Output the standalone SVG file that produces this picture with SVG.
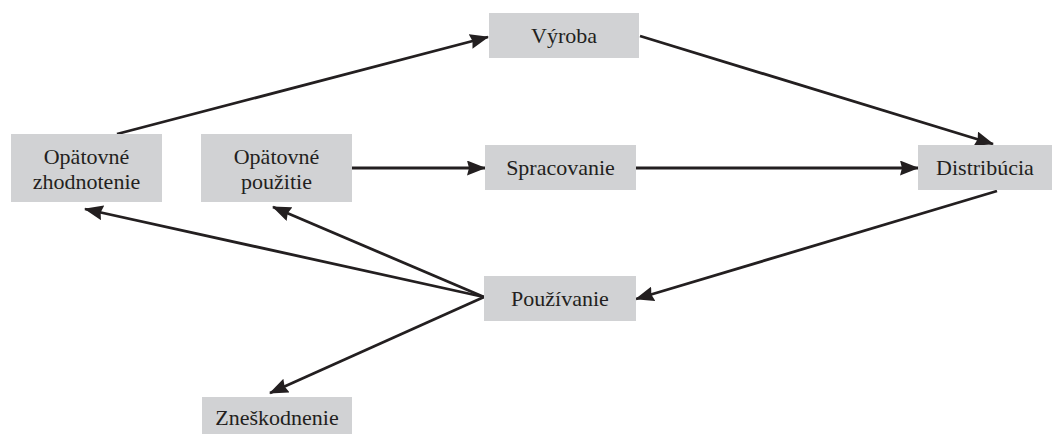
<svg xmlns="http://www.w3.org/2000/svg" width="1058" height="434" viewBox="0 0 1058 434">
<style>
.box{fill:#d1d2d4}
.lbl{font-family:"Liberation Serif",serif;font-size:22px;fill:#231f20;text-anchor:middle}
.con{stroke:#231f20;stroke-width:2.8;fill:none;marker-end:url(#ah)}
</style>
<defs>
<marker id="ah" markerUnits="userSpaceOnUse" markerWidth="19" markerHeight="15" refX="18" refY="7.5" orient="auto">
<path d="M0,0 L19,7.5 L0,15 L2,7.5 z" fill="#231f20"/>
</marker>
</defs>
<rect width="1058" height="434" fill="#ffffff"/>
<g id="connectors">
<line class="con" x1="117" y1="134" x2="488" y2="37"/>
<line class="con" x1="640" y1="36" x2="993" y2="144"/>
<line class="con" x1="352" y1="168" x2="485" y2="168"/>
<line class="con" x1="636" y1="168" x2="918" y2="168"/>
<line class="con" x1="997" y1="191" x2="636" y2="299"/>
<line class="con" x1="484" y1="297" x2="85" y2="209"/>
<line class="con" x1="484" y1="297" x2="273" y2="207"/>
<line class="con" x1="484" y1="297" x2="270" y2="393"/>
</g>
<g id="vyroba"><rect class="box" x="489" y="13" width="150" height="45"/><text class="lbl" x="564" y="43">Výroba</text></g>
<g id="zhodnotenie"><rect class="box" x="11" y="134" width="151" height="68"/><text class="lbl" x="86.5" y="164">Opätovné</text><text class="lbl" x="86.5" y="189">zhodnotenie</text></g>
<g id="pouzitie"><rect class="box" x="201" y="134" width="151" height="68"/><text class="lbl" x="276.5" y="164">Opätovné</text><text class="lbl" x="276.5" y="189">použitie</text></g>
<g id="spracovanie"><rect class="box" x="485" y="145" width="151" height="45"/><text class="lbl" x="560.5" y="175">Spracovanie</text></g>
<g id="distribucia"><rect class="box" x="918" y="145" width="134" height="45"/><text class="lbl" x="985" y="175">Distribúcia</text></g>
<g id="pouzivanie"><rect class="box" x="484" y="276" width="152" height="45"/><text class="lbl" x="560" y="306">Používanie</text></g>
<g id="zneskodnenie"><rect class="box" x="202" y="397" width="150" height="45"/><text class="lbl" x="277" y="425">Zneškodnenie</text></g>
</svg>
